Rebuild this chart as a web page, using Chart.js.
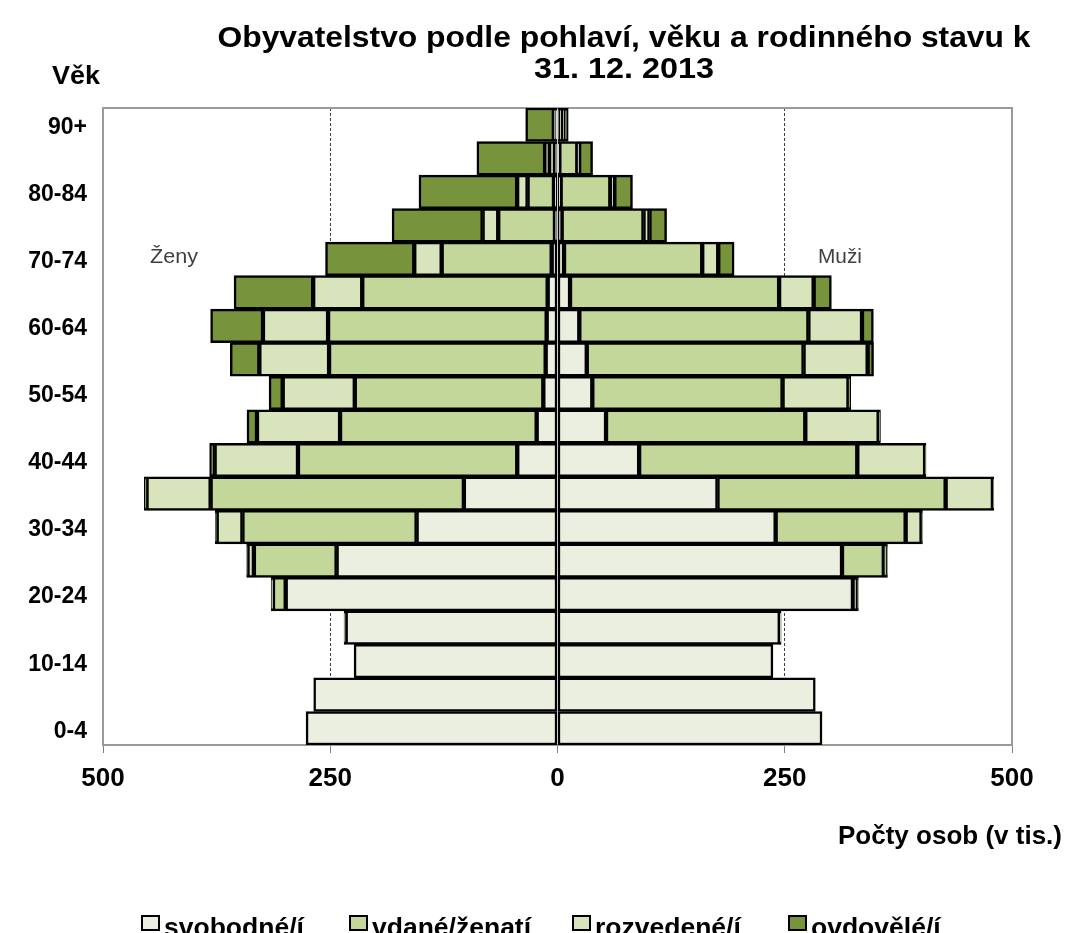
<!DOCTYPE html>
<html>
<head>
<meta charset="utf-8">
<script src="https://cdn.jsdelivr.net/npm/chart.js@4.4.1/dist/chart.umd.min.js"></script>
<style>
html,body{margin:0;padding:0;background:#fff;overflow:hidden;}
#wrap{width:1066px;height:933px;position:relative;}
</style>
</head>
<body>
<div id="wrap"><canvas id="c" width="1066" height="933"></canvas></div>
<script>
// Age groups (bottom to top)
const ageGroups = ['0-4','5-9','10-14','15-19','20-24','25-29','30-34','35-39','40-44','45-49','50-54','55-59','60-64','65-69','70-74','75-79','80-84','85-89','90+'];
const statusLabels = ['svobodné/í','vdané/ženatí','rozvedené/í','ovdovělé/í'];
const xTickValues = [-500,-250,0,250,500];

// Women (thousands)
const womenSingle   = [276.6,268.2,223.8,233,299,243,155,103,44.3,22.9,15.6,13,11.9,10.8,6.4,2.8,3.9,2.7,2];
const womenMarried  = [0,0,0,1.8,14,91,191.6,278.6,241.2,216.3,207.4,238.3,240.5,204,121,62.4,29,6.6,1];
const womenDivorced = [0,0,0,0,1.5,7,28.3,70.5,91.7,91.4,79.3,76.7,71.6,54,30.2,17.2,11.5,4.4,1];
const womenWidowed  = [0,0,0,0,0.5,1,1.5,2.5,5.5,11,15,32,57.6,87,97.6,99.6,108,75,31];

// Men (thousands)
const menSingle   = [291,283.6,237,244.5,325,313,240,176,89.8,53.4,38.3,32.2,24,13.8,7.2,4.6,3.5,2,1];
const menMarried  = [0,0,0,1.5,5,46,143,251,240,219.2,209.3,238.5,252,230,152,90,54.6,19.8,5];
const menDivorced = [0,0,0,0,0.5,3,17.5,52,74.6,80.7,72.5,70.5,59,38,17.6,6.6,4.4,2,0.8];
const menWidowed  = [0,0,0,0,0.5,1,1,1,1,2,2.5,6.5,12.5,19.5,17.5,18.8,20,14.8,5];

const colors = ['#EBEFDF','#C4D79B','#D8E4BC','#77933C'];
const FONT = '"Liberation Sans", Arial, sans-serif';

const neg = a => a.map(v => -v);
const womenSets = [womenSingle, womenMarried, womenDivorced, womenWidowed];
const menSets = [menSingle, menMarried, menDivorced, menWidowed];

const datasets = [];
womenSets.forEach((arr,i)=>datasets.push({label:statusLabels[i], data:neg(arr), backgroundColor:colors[i], borderColor:'#000', borderWidth:2.5, borderSkipped:false, stack:'s', barPercentage:1, categoryPercentage:1}));
menSets.forEach((arr,i)=>datasets.push({label:statusLabels[i]+' (muži)', data:arr, backgroundColor:colors[i], borderColor:'#000', borderWidth:2.5, borderSkipped:false, stack:'s', barPercentage:1, categoryPercentage:1}));

// draw text fitted to a given width (reference text is slightly condensed)
function fitText(ctx, text, x, y, width, align){
  const w = ctx.measureText(text).width;
  const sx = width / w;
  ctx.save();
  let x0 = x;
  if (align === 'center') x0 = x - width/2;
  else if (align === 'right') x0 = x - width;
  ctx.translate(x0, y);
  ctx.scale(sx, 1);
  ctx.textAlign = 'left';
  ctx.fillText(text, 0, 0);
  ctx.restore();
}

const decor = {
  id:'decor',
  beforeDatasetsDraw(chart){
    const {ctx, chartArea:a} = chart;
    ctx.save();
    ctx.strokeStyle = '#9a9a9a';
    ctx.lineWidth = 2;
    ctx.strokeRect(a.left, a.top, a.right-a.left, a.bottom-a.top);
    ctx.restore();
  },
  afterDraw(chart){
    const {ctx} = chart;
    ctx.save();
    ctx.fillStyle = '#000';
    ctx.textBaseline = 'alphabetic';
    ctx.font = 'bold 29px ' + FONT;
    fitText(ctx, 'Obyvatelstvo podle pohlaví, věku a rodinného stavu k', 624, 47, 813, 'center');
    fitText(ctx, '31. 12. 2013', 624, 78, 180, 'center');
    ctx.font = 'bold 25px ' + FONT;
    fitText(ctx, 'Věk', 52, 84, 48, 'left');
    fitText(ctx, 'Počty osob (v tis.)', 1062, 844, 224, 'right');
    ctx.font = '20px ' + FONT;
    ctx.fillStyle = '#404040';
    fitText(ctx, 'Ženy', 150, 263, 48, 'left');
    fitText(ctx, 'Muži', 818, 263, 44, 'left');
    // legend
    const lx = [142, 350, 573, 789];
    ctx.font = 'bold 26.5px ' + FONT;
    ctx.textAlign = 'left';
    statusLabels.forEach((t,i)=>{
      ctx.fillStyle = colors[i];
      ctx.fillRect(lx[i], 916, 17, 14);
      ctx.strokeStyle = '#000';
      ctx.lineWidth = 2;
      ctx.strokeRect(lx[i], 916, 17, 14);
      ctx.fillStyle = '#000';
      ctx.fillText(t, lx[i]+22, 936);
    });
    ctx.restore();
  }
};

new Chart(document.getElementById('c'), {
  type:'bar',
  data:{labels:ageGroups, datasets},
  options:{
    indexAxis:'y',
    responsive:false,
    animation:false,
    devicePixelRatio:1,
    layout:{padding:{top:108,left:0,right:54,bottom:0}},
    plugins:{legend:{display:false}, title:{display:false}, tooltip:{enabled:false}},
    scales:{
      x:{
        stacked:true, min:-500, max:500,
        afterBuildTicks(s){ s.ticks = xTickValues.map(v=>({value:v})); },
        afterFit(s){ s.height = 188; },
        grid:{
          color:c => (c.tick && Math.abs(c.tick.value)===250) ? '#404040' : 'rgba(0,0,0,0)',
          lineWidth:1, drawTicks:true, tickLength:8, tickColor:'#808080', tickWidth:1
        },
        border:{display:false, dash:[3,2]},
        ticks:{color:'#000', font:{family:FONT, size:26, weight:'bold'}, padding:10, callback:v=>Math.abs(v), maxRotation:0, autoSkip:false}
      },
      y:{
        stacked:true, reverse:true,
        afterFit(s){ s.width = 103; },
        grid:{display:false, drawTicks:false},
        border:{display:false},
        ticks:{color:'#000', font:{family:FONT, size:23, weight:'bold'}, padding:16, autoSkip:false, labelOffset:3,
          callback:function(v,i){ return i%2===0 ? ageGroups[i] : ''; }}
      }
    }
  },
  plugins:[decor]
});
</script>
</body>
</html>
